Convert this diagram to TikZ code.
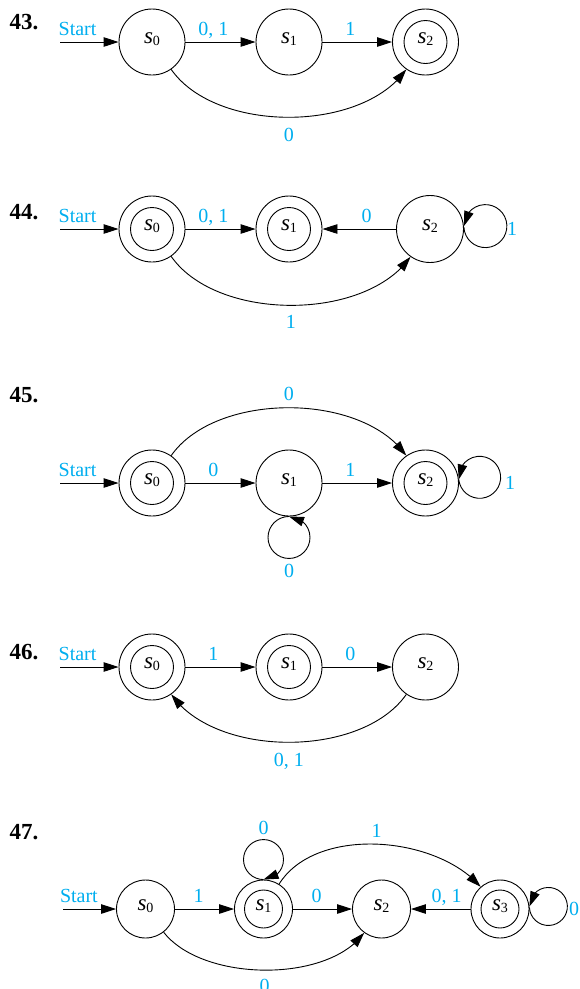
\documentclass[tikz,border=0pt]{standalone}
\usepackage{fontspec}
\setmainfont{Liberation Serif}
\usetikzlibrary{arrows.meta,bending}
\definecolor{labelblue}{RGB}{0,174,239}
\newcommand{\sname}[1]{{\fontsize{23}{24}\selectfont\textit{s}}%
  \raisebox{-2.5pt}{\fontsize{14}{14}\selectfont #1}}
\tikzset{
  state/.style={circle, draw, line width=0.9pt, minimum size=66pt, inner sep=0pt,
    text height=9pt, text depth=7pt},
  accept/.style={state, path picture={\draw[line width=0.9pt]
    (path picture bounding box.center) circle (#1);}},
  accept/.default=21.5pt,
  trans/.style={line width=0.9pt, -{Triangle[length=15pt,width=9.5pt]}},
  lab/.style={text=labelblue, font=\fontsize{20}{22}\selectfont, inner sep=0pt,
    text depth=0pt},
  num/.style={font=\fontsize{23}{24}\selectfont\bfseries},
}
\begin{document}
\begin{tikzpicture}[x=1pt,y=1pt]
\useasboundingbox (0,0) rectangle (579,-989);

% 43
\node[num] (n43) at (24,-22) {43.};
\coordinate (in43) at (60,-42);
\node[state] (a0) at (152,-42) {\sname{0}};
\node[state] (a1) at (289,-42) {\sname{1}};
\node[accept] (a2) at (425.5,-42) {\sname{2}};
\draw[trans] (in43) -- node[lab,above=6.5pt,pos=.3] (a-st) {Start} (a0);
\draw[trans] (a0) -- node[lab,above=6.5pt,pos=.4] (a-01) {0, 1} (a1);
\draw[trans] (a1) -- node[lab,above=6.5pt,pos=.4] (a-12) {1} (a2);
\draw[trans] (a0) to[out=-55,in=-125,looseness=.85] node[lab,below=10pt] (a-02) {0} (a2);

% 44
\node[num] (n44) at (24,-212) {44.};
\coordinate (in44) at (60,-229);
\node[accept] (b0) at (152,-229) {\sname{0}};
\node[accept] (b1) at (289,-229) {\sname{1}};
\node[state, minimum size=67pt] (b2) at (430,-229) {\sname{2}};
\draw[trans] (in44) -- node[lab,above=6.5pt,pos=.3] (b-st) {Start} (b0);
\draw[trans] (b0) -- node[lab,above=6.5pt,pos=.4] (b-01) {0, 1} (b1);
\draw[trans] (b2) -- node[lab,above=6.5pt,pos=.4] (b-21) {0} (b1);
\draw[trans] (b0) to[out=-55,in=-125,looseness=.85] node[lab,below=9pt] (b-02) {1} (b2);
\draw[trans] (b2.3) arc[start angle=183, end angle=540, radius=21.5pt];
\node[lab] (b-22) at (512,-229) {1};

% 45
\node[num] (n45) at (24,-395) {45.};
\coordinate (in45) at (60,-483);
\node[accept] (c0) at (152,-483) {\sname{0}};
\node[state] (c1) at (289,-483) {\sname{1}};
\node[accept] (c2) at (425.5,-483) {\sname{2}};
\draw[trans] (in45) -- node[lab,above=6.5pt,pos=.3] (c-st) {Start} (c0);
\draw[trans] (c0) -- node[lab,above=6.5pt,pos=.4] (c-01) {0} (c1);
\draw[trans] (c1) -- node[lab,above=6.5pt,pos=.4] (c-12) {1} (c2);
\draw[trans] (c0) to[out=55,in=125,looseness=.85] node[lab,above=7pt] (c-02) {0} (c2);
\draw[trans] (c1.south) arc[start angle=90, end angle=450, radius=21pt];
\node[lab] (c-11) at (289,-571) {0};
\draw[trans] (c2.6) arc[start angle=186, end angle=546, radius=21pt];
\node[lab] (c-22) at (510,-483) {1};

% 46
\node[num] (n46) at (24,-652) {46.};
\coordinate (in46) at (60,-667);
\node[accept] (d0) at (152,-667) {\sname{0}};
\node[accept] (d1) at (289,-667) {\sname{1}};
\node[state] (d2) at (425.5,-667) {\sname{2}};
\draw[trans] (in46) -- node[lab,above=6.5pt,pos=.3] (d-st) {Start} (d0);
\draw[trans] (d0) -- node[lab,above=6.5pt,pos=.4] (d-01) {1} (d1);
\draw[trans] (d1) -- node[lab,above=6.5pt,pos=.4] (d-12) {0} (d2);
\draw[trans] (d2) to[out=-125,in=-55,looseness=.85] node[lab,below=10pt] (d-20) {0, 1} (d0);

% 47
\node[num] (n47) at (24,-832) {47.};
\coordinate (in47) at (63,-909);
\begin{scope}[state/.append style={minimum size=58pt}]
\node[state] (e0) at (145.5,-909) {\sname{0}};
\node[accept=19pt] (e1) at (263.5,-909) {\sname{1}};
\node[state] (e2) at (381.5,-909) {\sname{2}};
\node[accept=19pt] (e3) at (500,-909) {\sname{3}};
\end{scope}
\draw[trans] (in47) -- node[lab,above=6.5pt,pos=.3] (e-st) {Start} (e0);
\draw[trans] (e0) -- node[lab,above=6.5pt,pos=.4] (e-01) {1} (e1);
\draw[trans] (e1) -- node[lab,above=6.5pt,pos=.4] (e-12) {0} (e2);
\draw[trans] (e3) -- node[lab,above=6.5pt,pos=.4] (e-32) {0, 1} (e2);
\draw[trans] (e0) to[out=-52,in=-126,looseness=.8] node[lab,below=9pt] (e-02) {0} (e2);
\draw[trans] (e1) to[out=58,in=131,looseness=.87] node[lab,above=6pt] (e-13) {1} (e3);
\draw[trans] (e1.north) arc[start angle=270, end angle=-90, radius=20pt];
\node[lab] (e-11) at (263.5,-828) {0};
\draw[trans] (e3.3) arc[start angle=183, end angle=540, radius=19pt];
\node[lab] (e-33) at (574,-909) {0};
\end{tikzpicture}
\end{document}
